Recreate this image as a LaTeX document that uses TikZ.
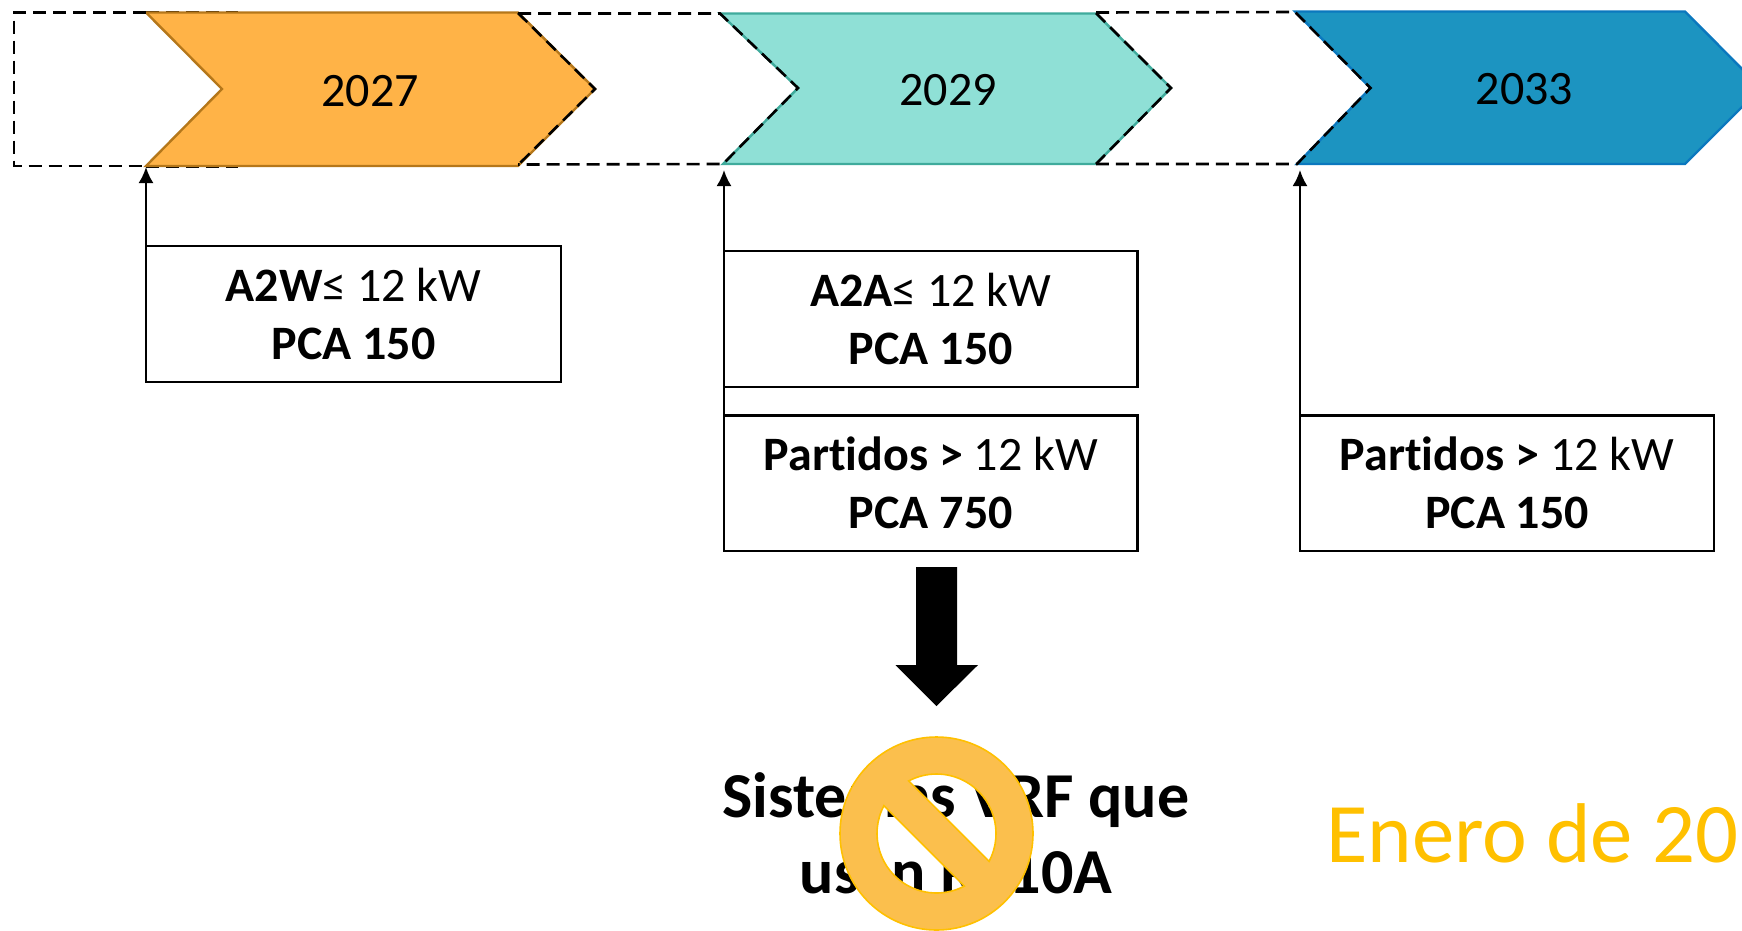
\documentclass[tikz,border=0pt]{standalone}
\usepackage{fontspec}
\setmainfont[Ligatures=CommonOff]{Carlito}
\usetikzlibrary{arrows.meta}
\definecolor{orfill}{HTML}{FFB347}
\definecolor{ordraw}{HTML}{B5771A}
\definecolor{tefill}{HTML}{8FE0D6}
\definecolor{tedraw}{HTML}{3FAB9C}
\definecolor{blfill}{HTML}{1C94C1}
\definecolor{bldraw}{HTML}{0B78BE}
\definecolor{nofill}{HTML}{FBBF4D}
\definecolor{nodraw}{HTML}{FFC000}
\tikzset{
  x=1pt,y=1pt,
  chevron/.style={line width=2.4pt,line join=miter},
  dashline/.style={line width=2.6pt,dash pattern=on 13pt off 7pt},
  infobox/.style={draw=black,line width=2.4pt,fill=white,outer sep=0pt,minimum width=#1,minimum height=135.5pt,inner sep=0pt,align=center,font=\fontsize{48}{58}\selectfont},
  infobox/.default=414pt,
  year/.style={anchor=base,inner sep=0pt,font=\fontsize{48}{50}\selectfont},
  uparrow/.style={line width=2.2pt,-{Latex[length=16pt,width=15pt]}},
}
\begin{document}
\begin{tikzpicture}
\clip (0,0) rectangle (1742,-930);
% dashes lying under the first chevron
\draw[dashline,line width=2pt] (146,-11.6) -- (238,-11.6);
\draw[dashline,line width=2pt] (146,-166.9) -- (238,-166.9);
% chevrons
\path[chevron,fill=orfill,draw=ordraw] (146,-12.5) -- (518,-12.5) -- (595,-89) -- (518,-166) -- (146,-166) -- (222,-89) -- cycle;
\path[chevron,fill=tefill,draw=tedraw] (720,-13.5) -- (1096,-13.5) -- (1171,-88) -- (1096,-164) -- (723,-164) -- (798,-88) -- cycle;
\path[chevron,fill=blfill,draw=bldraw] (1295,-11.5) -- (1685,-11.5) -- (1761,-88) -- (1685,-164) -- (1297,-164) -- (1370.5,-88) -- cycle;
% dashed outline
\draw[dashline] (146,-12.5) -- (14,-12.5) -- (14,-166) -- (146,-166);
\draw[dashline] (518,-13) -- (595,-89) -- (518,-165);
\draw[dashline] (518,-13.5) -- (720,-13.5) -- (798,-88) -- (723,-164) -- (518,-164.5);
\draw[dashline] (1096,-13) -- (1171,-88) -- (1096,-164);
\draw[dashline] (1096,-12.5) -- (1295,-12) -- (1370.5,-88) -- (1297,-164) -- (1096,-164);
% year labels
\node[year] (y27) at (370,-106) {2027};
\node[year] (y29) at (948,-105) {2029};
\node[year] (y33) at (1524.6,-104) {2033};
% arrow targets
\coordinate (t1) at (146,-167);
\coordinate (t2) at (724,-170);
\coordinate (t3) at (1300,-170);
% boxes
\node[infobox=415pt,minimum height=136pt] (b1) at (353.5,-314) {\textbf{A2W}≤ 12 kW\\\textbf{PCA 150}};
\node[infobox=413.5pt] (b2) at (930.75,-319) {\textbf{A2A}≤ 12 kW\\\textbf{PCA 150}};
\node[infobox=413.5pt] (b3) at (930.75,-483.25) {\textbf{Partidos >} 12 kW\\\textbf{PCA 750}};
\node[infobox=414pt] (b4) at (1507,-483.25) {\textbf{Partidos >} 12 kW\\\textbf{PCA 150}};
% connectors
\draw[uparrow] (b1.north west) -- (b1.north west |- t1);
\draw[uparrow] (b3.north west) -- (b3.north west |- t2);
\draw[uparrow] (b4.north west) -- (b4.north west |- t3);
% block arrow
\fill[black] (916,-567) -- (957,-567) -- (957,-665) -- (978,-665) -- (936.5,-706) -- (895.5,-665) -- (916,-665) -- cycle;
% bottom text
\node[anchor=base,inner sep=0pt,align=center,font=\fontsize{64}{76}\selectfont\bfseries] (vrf) at (956,-893) {Sistemas VRF que\\usan R410A};
\node[anchor=base west,inner sep=0pt,text=nodraw,font=\fontsize{84.8}{90}\selectfont] (ene) at (1326,-862.7) {Enero de 20};
% prohibition sign
\path[fill=nofill,draw=nodraw,line width=1.6pt,even odd rule]
  (936.5,-833.5) circle[radius=96.5pt]
  (936.5,-833.5) ++(-27.9:59.5) arc[start angle=-27.9,end angle=117.9,radius=59.5pt] -- cycle
  (936.5,-833.5) ++(152.1:59.5) arc[start angle=152.1,end angle=297.9,radius=59.5pt] -- cycle;
\end{tikzpicture}
\end{document}
